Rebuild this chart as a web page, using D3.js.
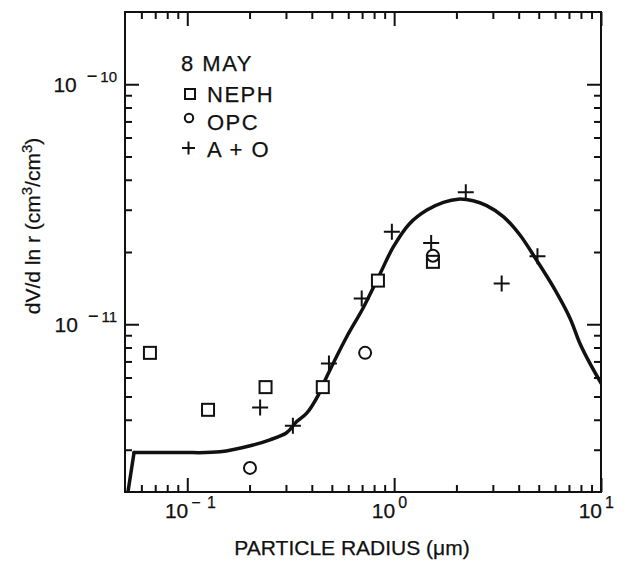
<!DOCTYPE html>
<html>
<head>
<meta charset="utf-8">
<script src="https://cdn.jsdelivr.net/npm/d3@7"></script>
<style>
  html, body { margin: 0; padding: 0; background: #fff; }
  svg { display: block; }
  text { font-family: "Liberation Sans", Arial, Helvetica, sans-serif; fill: #111; stroke: #111; stroke-width: 0.25px; }
</style>
</head>
<body>
<svg id="chart" width="629" height="562"></svg>
<script>
// ---------------- data ----------------
const legendTitle = "8 MAY";
const seriesNames = ["NEPH", "OPC", "A + O"];

// NEPH (squares)
const nephR = [0.066, 0.126, 0.239, 0.452, 0.835, 1.54];
const nephV = [7.6e-12, 4.4e-12, 5.47e-12, 5.47e-12, 1.52e-11, 1.82e-11];

// OPC (circles)
const opcR = [0.201, 0.724, 1.54];
const opcV = [2.52e-12, 7.6e-12, 1.93e-11];

// A + O (crosses)
const aoR = [0.225, 0.324, 0.484, 0.697, 0.975, 1.51, 2.22, 3.31, 4.93];
const aoV = [4.5e-12, 3.78e-12, 6.87e-12, 1.28e-11, 2.43e-11, 2.18e-11, 3.55e-11, 1.48e-11, 1.92e-11];

// fitted curve
const fitR = [0.0512, 0.0553, 0.0922, 0.144, 0.208, 0.251, 0.302, 0.338, 0.378, 0.430, 0.472, 0.590, 0.705,
              0.854, 0.991, 1.19, 1.44, 1.73, 2.04, 2.41, 2.80, 3.37, 4.05, 4.88, 5.88, 7.08, 7.91, 8.84, 10.0];
const fitV = [1.9e-12, 2.92e-12, 2.92e-12, 2.94e-12, 3.14e-12, 3.30e-12, 3.53e-12, 3.93e-12, 4.26e-12, 5.07e-12,
              6.04e-12, 8.87e-12, 1.16e-11, 1.62e-11, 2.10e-11, 2.63e-11, 2.99e-11, 3.22e-11, 3.32e-11, 3.27e-11,
              3.12e-11, 2.81e-11, 2.36e-11, 1.85e-11, 1.43e-11, 1.06e-11, 8.32e-12, 6.87e-12, 5.69e-12];

// axes
const xDomain = [0.05, 10];
const yDomain = [2e-12, 2e-10];
const xMajor = [0.1, 1, 10];
const xMajorExp = ["\u2212 1", "0", "1"];
const xMinor = [0.06, 0.07, 0.08, 0.09, 0.2, 0.3, 0.4, 0.5, 0.6, 0.7, 0.8, 0.9, 2, 3, 4, 5, 6, 7, 8, 9];
const yMajor = [1e-10, 1e-11];
const yMajorExp = ["10", "11"];
const yMinor = [3e-12, 4e-12, 5e-12, 6e-12, 7e-12, 8e-12, 9e-12,
                2e-11, 3e-11, 4e-11, 5e-11, 6e-11, 7e-11, 8e-11, 9e-11];
const xTitle = "PARTICLE RADIUS (\u03bcm)";

// ---------------- layout ----------------
const svg = d3.select("#chart");
const L = 125, R = 601, T = 12, B = 492;
const x = d3.scaleLog().domain(xDomain).range([L, R]);
const y = d3.scaleLog().domain(yDomain).range([B, T]);
const ink = "#111";

svg.append("defs").append("clipPath").attr("id", "clip")
  .append("rect").attr("x", L).attr("y", T).attr("width", R - L).attr("height", B - T);

function styleAxis(g) {
  g.select(".domain").remove();
  g.selectAll(".tick line").attr("stroke", ink).attr("stroke-width", 2);
  g.selectAll(".tick text").remove();
}
// ticks, inward on all four sides
[[d3.axisBottom, B, xMajor, 14], [d3.axisBottom, B, xMinor, 7],
 [d3.axisTop, T, xMajor, 14], [d3.axisTop, T, xMinor, 7]].forEach(([ax, pos, vals, len]) => {
  svg.append("g").attr("transform", `translate(0,${pos})`)
    .call(ax(x).tickValues(vals).tickSize(-len).tickFormat(""))
    .call(styleAxis);
});
[[d3.axisLeft, L, yMajor, 14], [d3.axisLeft, L, yMinor, 7],
 [d3.axisRight, R, yMajor, 14], [d3.axisRight, R, yMinor, 7]].forEach(([ax, pos, vals, len]) => {
  svg.append("g").attr("transform", `translate(${pos},0)`)
    .call(ax(y).tickValues(vals).tickSize(-len).tickFormat(""))
    .call(styleAxis);
});

// frame
svg.append("rect").attr("x", L).attr("y", T).attr("width", R - L).attr("height", B - T)
  .attr("fill", "none").attr("stroke", ink).attr("stroke-width", 2);

// x tick labels
xMajor.forEach((v, i) => {
  const px = x(v);
  svg.append("text").attr("x", px + 1).attr("y", 518).attr("text-anchor", "end")
    .attr("font-size", 21).text("10");
  svg.append("text").attr("x", px + 4).attr("y", 508).attr("text-anchor", "start")
    .attr("font-size", 16).attr("letter-spacing", 1).text(xMajorExp[i]);
});
// y tick labels
yMajor.forEach((v, i) => {
  const py = y(v);
  const t = svg.append("text").attr("x", 117).attr("y", py + 8).attr("text-anchor", "end").attr("font-size", 21);
  t.append("tspan").text("10");
  t.append("tspan").attr("dx", 10).attr("dy", -10).attr("font-size", 18).text("\u2212");
  t.append("tspan").attr("dx", 3).attr("font-size", 15).text(yMajorExp[i]);
});

// axis titles
svg.append("text").attr("x", 352).attr("y", 555).attr("text-anchor", "middle")
  .attr("font-size", 21).text(xTitle);
const yt = svg.append("text").attr("transform", "translate(40,226) rotate(-90)")
  .attr("text-anchor", "middle").attr("font-size", 21);
yt.append("tspan").text("dV/d ln r (cm");
yt.append("tspan").attr("dy", -8).attr("font-size", 15).text("3");
yt.append("tspan").attr("dy", 8).text("/cm");
yt.append("tspan").attr("dy", -8).attr("font-size", 15).text("3");
yt.append("tspan").attr("dy", 8).text(")");

// fitted curve: steep rise at left edge, then smooth distribution
const fitData = fitR.map((r, i) => [r, fitV[i]]);
const lineGen = d3.line().x(d => x(d[0])).y(d => y(d[1]));
const curveG = svg.append("g").attr("clip-path", "url(#clip)");
curveG.append("path").datum(fitData.slice(0, 2))
  .attr("fill", "none").attr("stroke", ink).attr("stroke-width", 3.5).attr("stroke-linecap", "round")
  .attr("d", lineGen.curve(d3.curveLinear));
curveG.append("path").datum(fitData.slice(1))
  .attr("fill", "none").attr("stroke", ink).attr("stroke-width", 3.5)
  .attr("stroke-linejoin", "round").attr("stroke-linecap", "round")
  .attr("d", lineGen.curve(d3.curveCatmullRom.alpha(0.5)));

// markers
const sq = 12, cr = 6, pl = 8;
svg.append("g").selectAll("rect").data(nephR.map((r, i) => [r, nephV[i]])).join("rect")
  .attr("x", d => x(d[0]) - sq / 2).attr("y", d => y(d[1]) - sq / 2)
  .attr("width", sq).attr("height", sq)
  .attr("fill", "#fff").attr("stroke", ink).attr("stroke-width", 2);
svg.append("g").selectAll("circle").data(opcR.map((r, i) => [r, opcV[i]])).join("circle")
  .attr("cx", d => x(d[0])).attr("cy", d => y(d[1])).attr("r", cr)
  .attr("fill", "none").attr("stroke", ink).attr("stroke-width", 2);
svg.append("g").selectAll("path").data(aoR.map((r, i) => [r, aoV[i]])).join("path")
  .attr("d", d => {
    const cx = x(d[0]), cy = y(d[1]);
    return `M${cx - pl},${cy}H${cx + pl}M${cx},${cy - pl}V${cy + pl}`;
  })
  .attr("fill", "none").attr("stroke", ink).attr("stroke-width", 2);

// legend
const lg = svg.append("g");
lg.append("text").attr("x", 181).attr("y", 71).attr("font-size", 22).attr("letter-spacing", 1.5).text(legendTitle);
lg.append("rect").attr("x", 185).attr("y", 89).attr("width", 10).attr("height", 10)
  .attr("fill", "none").attr("stroke", ink).attr("stroke-width", 2);
lg.append("circle").attr("cx", 189).attr("cy", 118).attr("r", 4.2)
  .attr("fill", "none").attr("stroke", ink).attr("stroke-width", 2);
lg.append("path").attr("d", "M182,148H195M188.5,141.5V154.5")
  .attr("stroke", ink).attr("stroke-width", 2);
[[seriesNames[0], 102], [seriesNames[1], 130], [seriesNames[2], 157]].forEach(([t, yy]) => {
  lg.append("text").attr("x", 207).attr("y", yy).attr("font-size", 22).attr("letter-spacing", 1.5).text(t);
});
</script>
</body>
</html>
